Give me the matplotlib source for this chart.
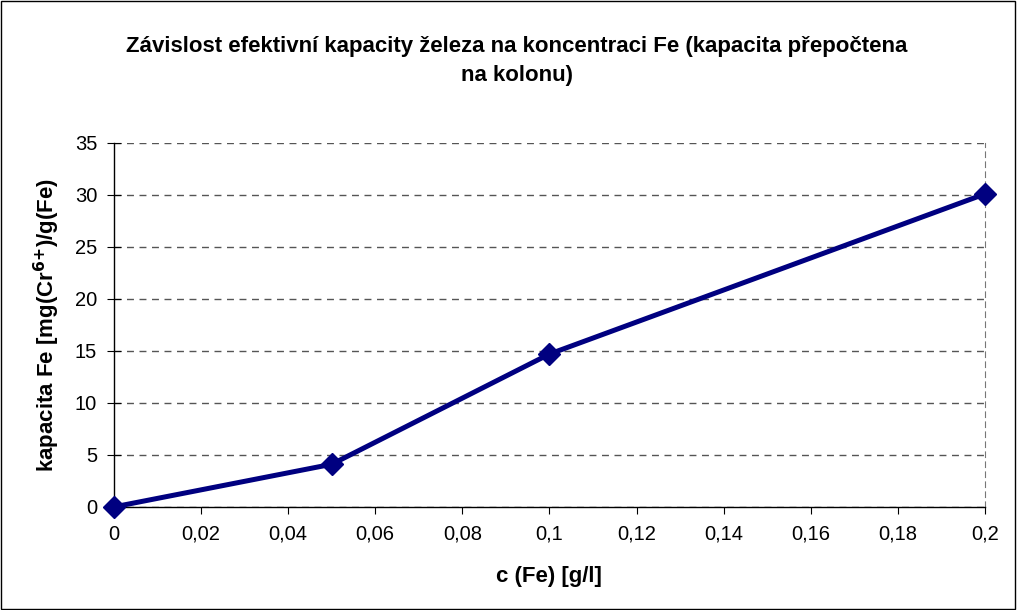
import matplotlib
matplotlib.use("Agg")
import matplotlib.pyplot as plt
from matplotlib.ticker import FuncFormatter, MultipleLocator

plt.rcParams['font.family'] = ['Liberation Sans', 'DejaVu Sans']

# data
conc = [0, 0.05, 0.1, 0.2]
capacity = [0, 4.1, 14.7, 30.1]

fig = plt.figure(figsize=(10.17, 6.10), dpi=100)
fig.patches.append(plt.Rectangle((0.0005, 0.001), 0.998, 0.997, transform=fig.transFigure,
                                 fill=False, edgecolor='black', linewidth=1))
ax = fig.add_axes([0.112, 0.169, 0.8565, 0.5966])

ax.plot(conc, capacity, color='#000080', linewidth=3.6, marker='D', markersize=11.5,
        clip_on=False, zorder=5)

ax.set_xlim(0, 0.2)
ax.set_ylim(0, 35)
ax.xaxis.set_major_locator(MultipleLocator(0.02))
ax.yaxis.set_major_locator(MultipleLocator(5))
ax.xaxis.set_major_formatter(FuncFormatter(lambda v, p: ('%g' % round(v, 2)).replace('.', ',')))
ax.tick_params(axis='x', direction='out', length=5, labelsize=14.5, pad=8)
ax.tick_params(axis='y', direction='inout', length=10, labelsize=14.5, pad=7)

ax.grid(axis='y', linestyle=(0, (5, 4)), color='#555555', linewidth=1)
ax.spines['top'].set_visible(False)
ax.spines['right'].set_linestyle((0, (5, 4)))
ax.spines['right'].set_color('#777777')
ax.spines['left'].set_linewidth(1)
ax.spines['bottom'].set_linewidth(1)

ax.set_xlabel('c (Fe) [g/l]', fontsize=16, fontweight='bold', labelpad=16)
ax.set_ylabel(r'kapacita Fe [mg(Cr$^{\mathbf{6{+}}}$)/g(Fe)', fontsize=16, fontweight='bold', labelpad=9)
fig.text(0.508, 0.9, 'Závislost efektivní kapacity železa na koncentraci Fe (kapacita přepočtena\nna kolonu)',
         ha='center', va='center', fontsize=16, fontweight='bold', linespacing=1.45)

fig.savefig('out.png', dpi=100)
